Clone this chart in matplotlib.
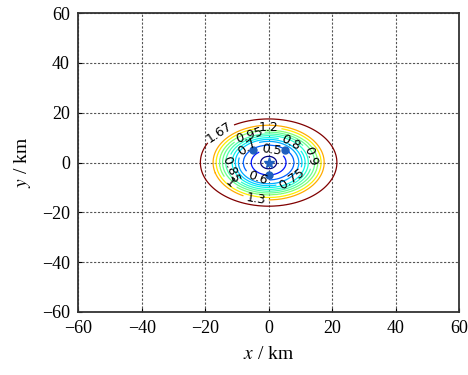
import numpy as np
import matplotlib
matplotlib.use("Agg")
import matplotlib.pyplot as plt

plt.rcParams['font.family'] = ['Liberation Serif', 'DejaVu Serif']
plt.rcParams['mathtext.fontset'] = 'stix'

# contour levels and the semi-axes (km) of each level's ellipse
levels = [0.3, 0.5, 0.6, 0.7, 0.75, 0.8, 0.85, 0.9, 0.95, 1.0, 1.2, 1.3, 1.67]
semi_x = [2.5, 5.5, 8.0, 9.5, 10.5, 11.5, 12.5, 13.5, 14.5, 15.5, 16.5, 17.5, 21.5]
semi_y = [2.5, 5.0, 7.0, 8.5, 9.3, 10.0, 10.8, 11.5, 12.2, 13.0, 14.0, 15.0, 17.5]

# stations and target
station_x = [-5, 5, 0]
station_y = [5, 5, -5]
target_x = [0]
target_y = [0]

ticks = [-60, -40, -20, 0, 20, 40, 60]

# build a field whose level sets are the ellipses above
gx = np.linspace(-60, 60, 601)
gy = np.linspace(-60, 60, 601)
X, Y = np.meshgrid(gx, gy)
q = [np.sqrt((X / a) ** 2 + (Y / b) ** 2) for a, b in zip(semi_x, semi_y)]
Z = levels[0] * q[0]
for i in range(len(levels) - 1):
    m = (q[i] >= 1) & (q[i + 1] < 1)
    frac = (q[i][m] - 1) / (q[i][m] - q[i + 1][m])
    Z[m] = levels[i] + frac * (levels[i + 1] - levels[i])
out = q[-1] >= 1
Z[out] = levels[-1] * q[-1][out]

fig = plt.figure(figsize=(4.68, 3.75), dpi=100)
ax = fig.add_axes([0.167, 0.168, 0.814, 0.797])

cs = ax.contour(X, Y, Z, levels=levels, cmap='jet', linewidths=0.9)
labels = ax.clabel(cs, levels, inline=True, fontsize=9, colors='k', fmt='%g')
for t in labels:
    t.set_family('DejaVu Sans')

ax.plot(station_x, station_y, 'o', color='#1f5fbf', markersize=5)
ax.plot(target_x, target_y, '*', color='#1f5fbf', markersize=8)

ax.set_xlim(-60, 60)
ax.set_ylim(-60, 60)
ax.set_xticks(ticks)
ax.set_yticks(ticks)
ax.grid(True, color='#555555', linestyle=(0, (2, 1.5)), linewidth=0.8)
ax.tick_params(direction='in', length=3, labelsize=13, pad=6)
for s in ax.spines.values():
    s.set_linewidth(1.3)
    s.set_color('#333333')

ax.set_xlabel('$x$ / km', fontsize=14, labelpad=6)
ax.set_ylabel('$y$ / km', fontsize=14, labelpad=6)

fig.savefig('out.png', dpi=100)
